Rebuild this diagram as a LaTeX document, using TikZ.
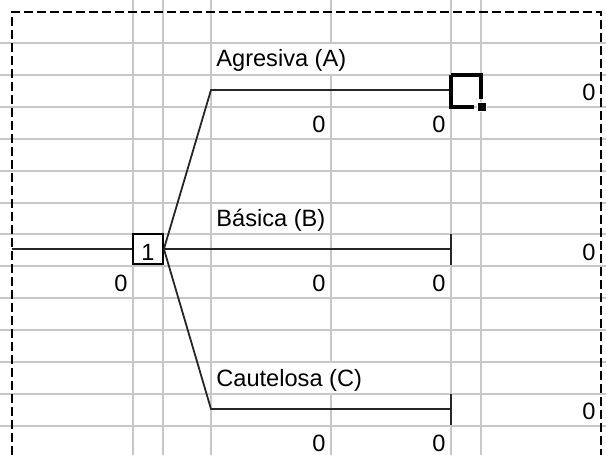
\documentclass[tikz,border=0pt]{standalone}
\usepackage{fontspec}
\setmainfont{Liberation Sans}
\usetikzlibrary{calc}
\definecolor{gridc}{RGB}{200,200,200}
\tikzset{
  gridln/.style={draw=gridc, line width=0.8pt},
  tree/.style={draw=black!85, line width=0.9pt},
  border/.style={draw=black, line width=0.9pt, dash pattern=on 4.5pt off 2pt},
  lbl/.style={inner sep=0pt, font=\fontsize{11.8}{14}\selectfont},
  decbox/.style={draw=black, line width=0.9pt, fill=white, minimum width=15pt, minimum height=15pt, inner sep=0pt},
  selbox/.style={draw=black, line width=2pt},
}
\begin{document}
\begin{tikzpicture}[x=0.5pt,y=-0.5pt]
\useasboundingbox (0,0) rectangle (606,455);
% gridlines
\foreach \yy in {43,75,107,139,171,203,234,266,298,330,362,394,426}
  \draw[gridln] (0,\yy) -- (606,\yy);
\foreach \xx in {133,163,211,451,481}
  \draw[gridln] (\xx,0) -- (\xx,455);
\draw[gridln] (331,0) -- (331,43);
\draw[gridln] (331,75) -- (331,362);
\draw[gridln] (331,394) -- (331,455);
% dashed border
\draw[border] (12,455) -- (12,12) -- (601,12) -- (601,455);
% coordinates
\coordinate (in) at (12,249);
\coordinate (a1) at (211,90);
\coordinate (a2) at (451,90);
\coordinate (b2) at (451,249);
\coordinate (c1) at (211,409);
\coordinate (c2) at (451,409);
% decision node
\node[decbox] (d) at (148,249) {};
\node[lbl, anchor=base east] (d1) at (155,260) {1};
% branches
\draw[tree] (in) -- (d.west);
\draw[tree] (d.east) -- (a1) -- (a2);
\draw[tree] (d.east) -- (b2);
\draw[tree] (d.east) -- (c1) -- (c2);
\draw[tree] ($(b2)+(0,-15)$) -- ($(b2)+(0,16)$);
\draw[tree] ($(c2)+(0,-15)$) -- ($(c2)+(0,16)$);
% selected cell
\draw[selbox] (451,75) -- (451,107) -- (474,107);
\draw[selbox] (451,75) -- (481,75) -- (481,99);
\node[fill=black, draw=white, line width=0.5pt, minimum size=4.5pt, inner sep=0pt] (hdl) at (481.5,106.5) {};
% labels
\node[lbl, anchor=base west] (la) at (216,67) {Agresiva (A)};
\node[lbl, anchor=base west] (lb) at (216,226) {Básica (B)};
\node[lbl, anchor=base west] (lc) at (216,386) {Cautelosa (C)};
% values
\node[lbl, anchor=base east] (a3) at (326,132) {0};
\node[lbl, anchor=base east] (a4) at (446,132) {0};
\node[lbl, anchor=base east] (a5) at (596,100) {0};
\node[lbl, anchor=base east] (d0) at (128,291) {0};
\node[lbl, anchor=base east] (b3) at (326,291) {0};
\node[lbl, anchor=base east] (b4) at (446,291) {0};
\node[lbl, anchor=base east] (b5) at (596,260) {0};
\node[lbl, anchor=base east] (c3) at (326,451) {0};
\node[lbl, anchor=base east] (c4) at (446,451) {0};
\node[lbl, anchor=base east] (c5) at (596,419) {0};
\end{tikzpicture}
\end{document}
